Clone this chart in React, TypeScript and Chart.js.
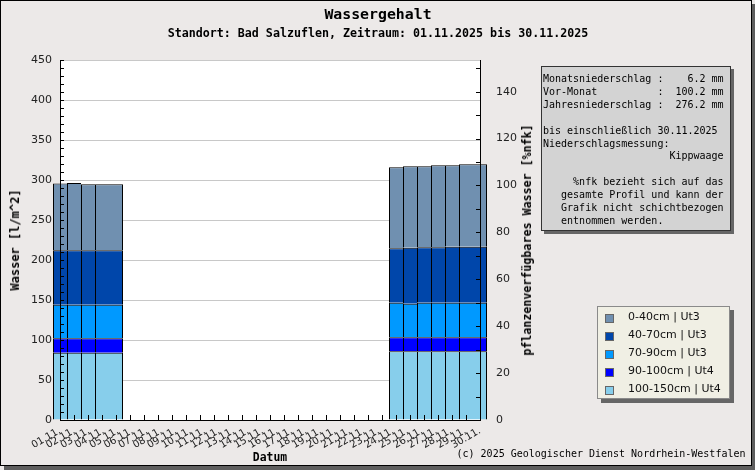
import { useEffect, useRef } from "react"
import { Chart, registerables } from "chart.js"
import type { Plugin, ScriptableContext } from "chart.js"

Chart.register(...registerables)

const _ = null

// one slot per day; the last slot closes the month
const barDays = [
  "01.11.", "02.11.", "03.11.", "04.11.", "05.11.", "06.11.", "07.11.", "08.11.",
  "09.11.", "10.11.", "11.11.", "12.11.", "13.11.", "14.11.", "15.11.", "16.11.",
  "17.11.", "18.11.", "19.11.", "20.11.", "21.11.", "22.11.", "23.11.", "24.11.",
  "25.11.", "26.11.", "27.11.", "28.11.", "29.11.", "30.11.", "01.12.",
]
const tickLabels = barDays.slice(0, 30)

const layers = ["0-40cm | Ut3", "40-70cm | Ut3", "70-90cm | Ut3", "90-100cm | Ut4", "100-150cm | Ut4"]
const layerColors = ["#7090b0", "#0046aa", "#0099ff", "#0000ff", "#87ceeb"]

// l/m^2 per layer and day
const layer0to40 = [83.3, 84.0, 82.5, 82.6, 82.6, _, _, _, _, _, _, _, _, _, _, _, _, _, _, _, _, _, _, _, 101.2, 101.7, 101.3, 102.5, 101.6, 102.9, 102.9]
const layer40to70 = [68.0, 68.0, 68.0, 68.0, 68.0, _, _, _, _, _, _, _, _, _, _, _, _, _, _, _, _, _, _, _, 67.9, 70.0, 69.1, 69.1, 70.0, 70.0, 70.0]
const layer70to90 = [42.1, 42.1, 42.1, 42.1, 42.1, _, _, _, _, _, _, _, _, _, _, _, _, _, _, _, _, _, _, _, 43.4, 42.1, 43.4, 43.4, 43.4, 43.4, 43.4]
const layer90to100 = [17.9, 17.9, 17.9, 17.9, 17.9, _, _, _, _, _, _, _, _, _, _, _, _, _, _, _, _, _, _, _, 17.5, 17.5, 17.5, 17.5, 17.5, 17.5, 17.5]
const layer100to150 = [84.2, 84.2, 84.2, 84.2, 84.2, _, _, _, _, _, _, _, _, _, _, _, _, _, _, _, _, _, _, _, 85.8, 85.8, 85.8, 85.8, 85.8, 85.8, 85.8]
const layerValues = [layer0to40, layer40to70, layer70to90, layer90to100, layer100to150]

const MM_MAX = 450
const MM_STEP = 50
const MM_MINOR = 10
const PCT_MAX = 153.5
const PCT_STEP = 20
const PCT_MINOR = 10

const infoLines = [
  "Monatsniederschlag :    6.2 mm",
  "Vor-Monat          :  100.2 mm",
  "Jahresniederschlag :  276.2 mm",
  "",
  "bis einschließlich 30.11.2025",
  "Niederschlagsmessung:",
  "                     Kippwaage",
  "",
  "     %nfk bezieht sich auf das",
  "   gesamte Profil und kann der",
  "   Grafik nicht schichtbezogen",
  "   entnommen werden.",
]

const MONO = "'DejaVu Sans Mono', monospace"
const SANS = "'DejaVu Sans', sans-serif"

const hasData = (i: number) => layerValues.some((arr) => arr[i] != null)
const sameAsPrev = (i: number) =>
  i > 0 && hasData(i) && layerValues.every((arr) => arr[i] === arr[i - 1])

const axisFrame: Plugin<"bar"> = {
  id: "axisFrame",
  beforeDraw(chart) {
    const { ctx, chartArea: a } = chart
    ctx.save()
    ctx.fillStyle = "#ffffff"
    ctx.fillRect(a.left, a.top, a.right - a.left, a.bottom - a.top)
    ctx.restore()
  },
  afterDatasetsDraw(chart) {
    const { ctx, chartArea: a, scales } = chart
    const x = scales.x
    const y = scales.y
    const yp = scales.yPct
    ctx.save()
    ctx.strokeStyle = "#000"
    ctx.lineWidth = 1
    ctx.beginPath()
    for (let v = 0; v <= MM_MAX; v += MM_MINOR) {
      const py = Math.round(y.getPixelForValue(v)) + 0.5
      ctx.moveTo(a.left, py)
      ctx.lineTo(a.left + 4, py)
    }
    for (let v = 0; v <= PCT_MAX; v += PCT_MINOR) {
      const py = Math.round(yp.getPixelForValue(v)) + 0.5
      ctx.moveTo(a.right + 1, py)
      ctx.lineTo(a.right - 4, py)
    }
    for (let i = 0; i < barDays.length; i++) {
      const px = Math.round(x.getPixelForValue(i)) + 0.5
      ctx.moveTo(px, a.bottom)
      ctx.lineTo(px, a.bottom - 5)
    }
    ctx.moveTo(a.left + 0.5, a.top)
    ctx.lineTo(a.left + 0.5, a.bottom + 1)
    ctx.moveTo(a.right + 0.5, a.top)
    ctx.lineTo(a.right + 0.5, a.bottom + 1)
    ctx.moveTo(a.left, a.bottom + 0.5)
    ctx.lineTo(a.right + 1, a.bottom + 0.5)
    ctx.stroke()
    ctx.restore()
  },
}

function Label(props: { x: number; y: number; text: string; size?: number; bold?: boolean; rot?: number; sx?: number }) {
  const { x, y, text, size = 12, bold = true, rot = 0, sx = 1 } = props
  return (
    <div
      style={{
        position: "absolute",
        left: x,
        top: y,
        transform: `translate(-50%, -50%) rotate(${rot}deg) scaleX(${sx})`,
        font: `${bold ? "bold " : ""}${size}px ${MONO}`,
        lineHeight: 1,
        whiteSpace: "pre",
        color: "#000",
      }}
    >
      {text}
    </div>
  )
}

export default function App() {
  const chartRef = useRef<HTMLCanvasElement>(null)
  const chartInstance = useRef<Chart<"bar"> | null>(null)

  useEffect(() => {
    if (!chartRef.current) return
    if (chartInstance.current) chartInstance.current.destroy()

    const tickFont = { family: SANS, size: 11 }

    chartInstance.current = new Chart(chartRef.current, {
      type: "bar",
      data: {
        labels: barDays,
        datasets: layers
          .map((name, k) => ({
            label: name,
            data: layerValues[k],
            backgroundColor: layerColors[k],
            borderColor: "#000",
            borderSkipped: false as const,
            inflateAmount: 0,
            borderWidth: (c: ScriptableContext<"bar">) => {
              const i = c.dataIndex
              return { top: 1, bottom: 0, left: sameAsPrev(i) ? 0 : 1, right: hasData(i + 1) ? 0 : 1 }
            },
            barPercentage: 1,
            categoryPercentage: 1,
            clip: false as const,
            xAxisID: "x",
            yAxisID: "y",
          }))
          .reverse(),
      },
      options: {
        responsive: false,
        animation: false,
        layout: { padding: { top: 60, left: 0, right: 0, bottom: 0 } },
        plugins: {
          legend: { display: false },
          tooltip: { enabled: false },
        },
        scales: {
          x: {
            type: "category",
            offset: false,
            stacked: true,
            display: false,
          },
          xLabels: {
            type: "category",
            labels: tickLabels,
            offset: false,
            position: "bottom",
            grid: { display: false, drawTicks: false },
            border: { display: false },
            ticks: {
              autoSkip: false,
              maxRotation: 30,
              minRotation: 30,
              padding: 5,
              color: "#222",
              font: { family: SANS, size: 10 },
            },
            afterFit: (s) => {
              s.height = 50
            },
          },
          y: {
            position: "left",
            stacked: true,
            min: 0,
            max: MM_MAX,
            ticks: { stepSize: MM_STEP, padding: 8, color: "#222", font: tickFont },
            grid: { color: "#c8c8c8", drawTicks: false },
            border: { display: false },
            afterFit: (s) => {
              s.width = 60
            },
          },
          yPct: {
            position: "right",
            min: 0,
            max: PCT_MAX,
            ticks: { stepSize: PCT_STEP, includeBounds: false, padding: 8, color: "#222", font: tickFont },
            grid: { display: false },
            border: { display: false },
            afterFit: (s) => {
              s.width = 275
            },
          },
        },
      },
      plugins: [axisFrame],
    })

    return () => {
      if (chartInstance.current) {
        chartInstance.current.destroy()
        chartInstance.current = null
      }
    }
  }, [])

  return (
    <div style={{ position: "absolute", left: 0, top: 0, width: 755, height: 470, background: "#ece9e8", overflow: "hidden" }}>
      <div
        style={{
          position: "absolute",
          left: 0,
          top: 0,
          width: 752,
          height: 466,
          boxSizing: "border-box",
          border: "1px solid #000",
          boxShadow: "4px 4px 0 #5e5e5e",
        }}
      />
      <canvas ref={chartRef} width={755} height={470} style={{ position: "absolute", left: 0, top: 0 }} />

      <Label x={378} y={14} text="Wassergehalt" size={14} sx={1.06} />
      <Label x={378} y={33} text="Standort: Bad Salzuflen, Zeitraum: 01.11.2025 bis 30.11.2025" size={12} sx={0.97} />
      <Label x={15} y={240} text="Wasser [l/m^2]" size={12} rot={-90} />
      <Label x={527} y={240} text="pflanzenverfügbares Wasser [%nfk]" size={12} rot={-90} sx={0.97} />
      <Label x={270} y={457} text="Datum" size={12} sx={0.95} />
      <Label x={601} y={454} text="(c) 2025 Geologischer Dienst Nordrhein-Westfalen" size={10} bold={false} />

      {/* precipitation info */}
      <div
        style={{
          position: "absolute",
          left: 541,
          top: 66,
          width: 190,
          height: 165,
          boxSizing: "border-box",
          background: "#d3d3d3",
          border: "1px solid #333",
          boxShadow: "3px 3px 0 #666",
        }}
      >
        <pre style={{ margin: 0, padding: "6px 0 0 1px", font: `10px ${MONO}`, lineHeight: "12.9px", color: "#000" }}>
          {infoLines.join("\n")}
        </pre>
      </div>

      {/* layer legend */}
      <div
        style={{
          position: "absolute",
          left: 597,
          top: 306,
          width: 133,
          height: 93,
          boxSizing: "border-box",
          background: "#f0efe4",
          border: "1px solid #8a8a8a",
          boxShadow: "4px 4px 0 #666",
        }}
      >
        {layers.map((name, k) => (
          <div key={name} style={{ position: "absolute", left: 0, top: 2 + 18 * k, height: 18, width: 131 }}>
            <div
              style={{
                position: "absolute",
                left: 7,
                top: 5,
                width: 9,
                height: 9,
                boxSizing: "border-box",
                background: layerColors[k],
                border: "1px solid #666",
              }}
            />
            <div
              style={{
                position: "absolute",
                left: 30,
                top: 1,
                lineHeight: "18px",
                font: `11px ${SANS}`,
                color: "#111",
                whiteSpace: "pre",
              }}
            >
              {name}
            </div>
          </div>
        ))}
      </div>
    </div>
  )
}
